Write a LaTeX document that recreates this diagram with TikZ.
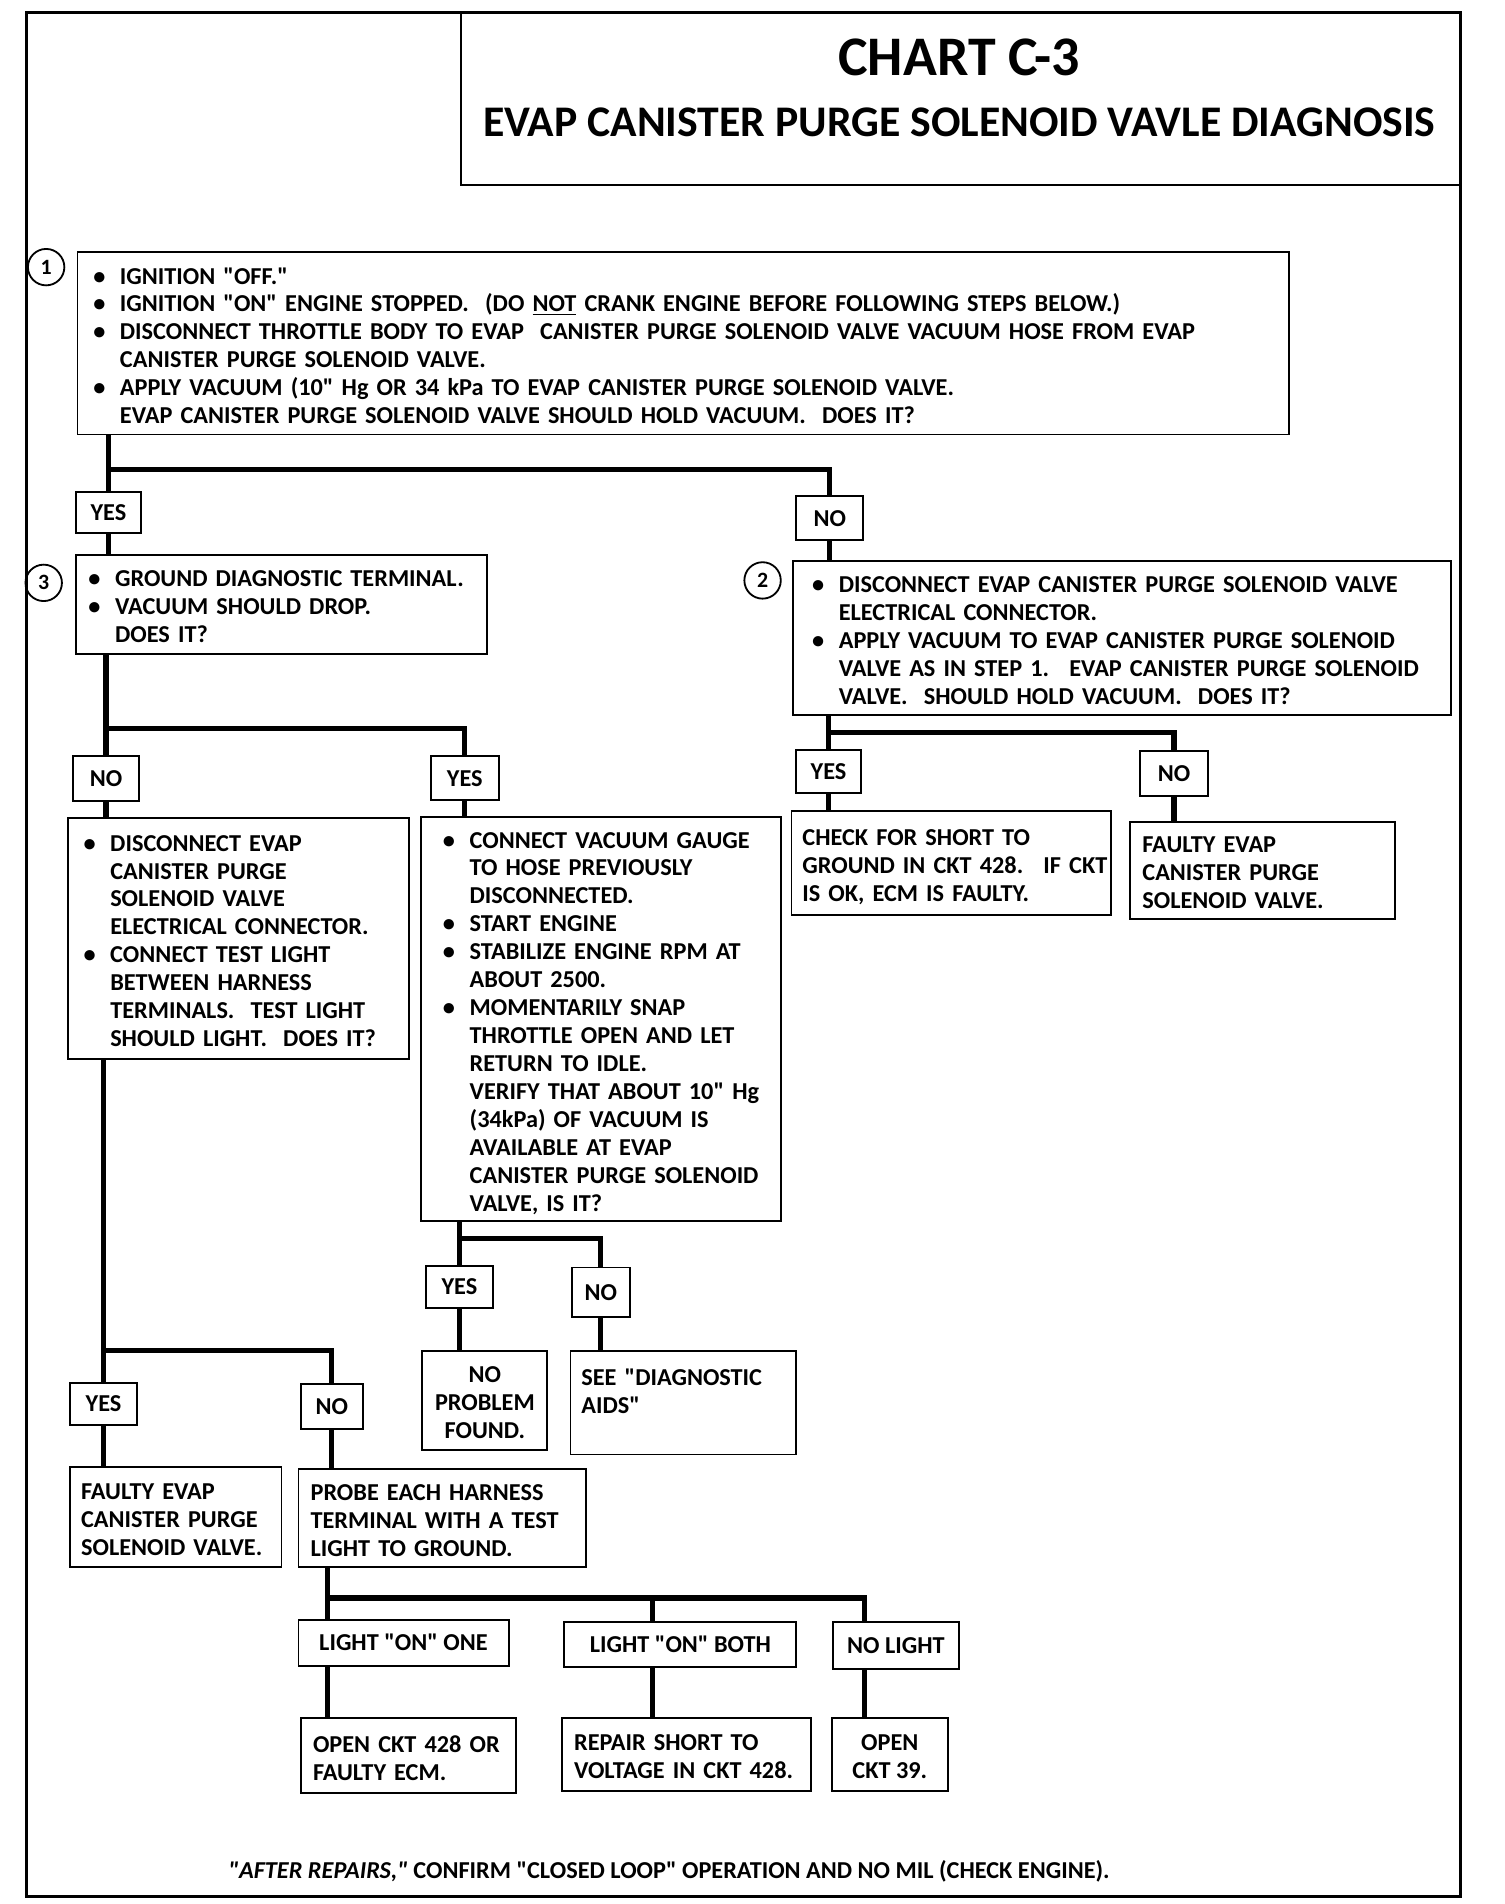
\documentclass[tikz,border=0pt]{standalone}
\usepackage{fontspec}
\setmainfont{Carlito}[Ligatures=TeXOff]
\usetikzlibrary{positioning,calc}
\newcommand{\cuerpo}{\fontsize{20}{23}\selectfont\bfseries}
\newcommand{\bul}{\makebox[22pt][l]{\textbullet}}
\newcommand{\sng}{\hspace*{22pt}}
\newcommand{\filas}[1]{\raisebox{-4pt}[\height][\depth]{\begin{tabular}{@{}l@{}}#1\end{tabular}}}
\newcommand{\filasc}[1]{\raisebox{-4pt}[\height][\depth]{\begin{tabular}{@{}c@{}}#1\end{tabular}}}
\tikzset{
  caja/.style={draw, line width=1.6pt, anchor=north west, inner ysep=0pt, font=\cuerpo},
  cajac/.style={draw, line width=1.6pt, anchor=north west, inner sep=0pt, font=\cuerpo},
  etiq/.style={draw, line width=1.6pt, anchor=north west, inner sep=0pt, font=\cuerpo},
  num/.style={draw, circle, line width=1.5pt, minimum size=30pt, inner sep=0pt, font=\fontsize{18}{18}\selectfont\bfseries},
  fl/.style={line width=4.2pt},
  marco/.style={line width=2.6pt},
}
\begin{document}
\begin{tikzpicture}[x=1pt, y=-1pt]
  \useasboundingbox (0,0) rectangle (1239,1568);
  \draw[marco] (22,10) rectangle (1203,1562);
  \draw[line width=1.6pt] (380,10) rectangle (1203,152);
  \node[font=\fontsize{46}{46}\selectfont\bfseries] (tit) at (790,47) {CHART C-3};
  \node[font=\fontsize{36}{36}\selectfont\bfseries] (sub) at (790,101) {EVAP CANISTER PURGE SOLENOID VAVLE DIAGNOSIS};

  \node[caja, minimum width=998pt, minimum height=150pt, inner xsep=13pt, text width=972pt] (s1) at (63,207)
    {\filas{\bul IGNITION "OFF."\\
     \bul IGNITION "ON" ENGINE STOPPED.~ (DO \underline{NOT} CRANK ENGINE BEFORE FOLLOWING STEPS BELOW.)\\
     \bul DISCONNECT THROTTLE BODY TO EVAP~ CANISTER PURGE SOLENOID VALVE VACUUM HOSE FROM EVAP\\
     \sng CANISTER PURGE SOLENOID VALVE.\\
     \bul APPLY VACUUM (10" Hg OR 34 kPa TO EVAP CANISTER PURGE SOLENOID VALVE.\\
     \sng EVAP CANISTER PURGE SOLENOID VALVE SHOULD HOLD VACUUM.~ DOES IT?}};
  \node[num] (c1) at (38,220) {1};

  \coordinate (j1) at (0,387);
  \node[etiq, minimum width=53pt, minimum height=34pt] (y1) at (62,404) {YES};
  \node[etiq, minimum width=55pt, minimum height=36pt] (n1) at (655,408) {NO};

  \node[caja, minimum width=338pt, minimum height=82pt, inner xsep=10pt, text width=318pt] (s3) at (62,456)
    {\filas{\bul GROUND DIAGNOSTIC TERMINAL.\\
     \bul VACUUM SHOULD DROP.\\
     \sng DOES IT?}};
  \node[num] (c3) at (36,480) {3};

  \node[caja, minimum width=542pt, minimum height=127pt, inner xsep=16pt, text width=510pt] (s2) at (652,461)
    {\filas{\bul DISCONNECT EVAP CANISTER PURGE SOLENOID VALVE\\
     \sng ELECTRICAL CONNECTOR.\\
     \bul APPLY VACUUM TO EVAP CANISTER PURGE SOLENOID\\
     \sng VALVE AS IN STEP 1.~ EVAP CANISTER PURGE SOLENOID\\
     \sng VALVE.~ SHOULD HOLD VACUUM.~ DOES IT?}};
  \node[num] (c2) at (628,478) {2};

  \coordinate (j3) at (0,600);
  \node[etiq, minimum width=55pt, minimum height=37pt] (n3) at (59,622) {NO};
  \node[etiq, minimum width=56pt, minimum height=36pt] (y3) at (354,622) {YES};

  \coordinate (j2) at (0,603);
  \node[etiq, minimum width=53pt, minimum height=35pt] (y2) at (655,617) {YES};
  \node[etiq, minimum width=56pt, minimum height=37pt] (n2) at (938,618) {NO};

  \node[caja, minimum width=263pt, minimum height=86pt, inner xsep=9pt, text width=245pt] (s6) at (651,667)
    {\filas{CHECK FOR SHORT TO\\
     GROUND IN CKT 428.~ IF CKT\\
     IS OK, ECM IS FAULTY.}};
  \node[caja, minimum width=218pt, minimum height=80pt, inner xsep=10pt, text width=198pt] (s7) at (930,676)
    {\filas{FAULTY EVAP\\
     CANISTER PURGE\\
     SOLENOID VALVE.}};

  \node[caja, minimum width=281pt, minimum height=198pt, inner xsep=13pt, text width=255pt] (s4) at (55,673)
    {\filas{\bul DISCONNECT EVAP\\
     \sng CANISTER PURGE\\
     \sng SOLENOID VALVE\\
     \sng ELECTRICAL CONNECTOR.\\
     \bul CONNECT TEST LIGHT\\
     \sng BETWEEN HARNESS\\
     \sng TERMINALS.~ TEST LIGHT\\
     \sng SHOULD LIGHT.~ DOES IT?}};
  \node[caja, minimum width=296pt, minimum height=333pt, inner xsep=18pt, text width=260pt] (s5) at (346,672)
    {\filas{\bul CONNECT VACUUM GAUGE\\
     \sng TO HOSE PREVIOUSLY\\
     \sng DISCONNECTED.\\
     \bul START ENGINE\\
     \bul STABILIZE ENGINE RPM AT\\
     \sng ABOUT 2500.\\
     \bul MOMENTARILY SNAP\\
     \sng THROTTLE OPEN AND LET\\
     \sng RETURN TO IDLE.\\
     \sng VERIFY THAT ABOUT 10" Hg\\
     \sng (34kPa) OF VACUUM IS\\
     \sng AVAILABLE AT EVAP\\
     \sng CANISTER PURGE SOLENOID\\
     \sng VALVE, IS IT?}};

  \coordinate (j5) at (0,1020);
  \node[etiq, minimum width=55pt, minimum height=34pt] (y5) at (350,1042) {YES};
  \node[etiq, minimum width=48pt, minimum height=41pt] (n5) at (470,1043) {NO};
  \node[cajac, minimum width=103pt, minimum height=81pt] (s10) at (347,1112)
    {\filasc{NO\\ PROBLEM\\ FOUND.}};
  \node[caja, minimum width=186pt, minimum height=85pt, inner xsep=9pt, text width=168pt] (s11) at (469,1112)
    {\filas{SEE "DIAGNOSTIC\\ AIDS"\\ \mbox{}}};

  \coordinate (j4) at (0,1112);
  \node[etiq, minimum width=55pt, minimum height=35pt] (y4) at (57,1138) {YES};
  \node[etiq, minimum width=51pt, minimum height=37pt] (n4) at (247,1139) {NO};
  \node[caja, minimum width=174pt, minimum height=83pt, inner xsep=9pt, text width=156pt] (s8) at (57,1207)
    {\filas{FAULTY EVAP\\
     CANISTER PURGE\\
     SOLENOID VALVE.}};
  \node[caja, minimum width=237pt, minimum height=81pt, inner xsep=10pt, text width=217pt] (s9) at (245,1209)
    {\filas{PROBE EACH HARNESS\\
     TERMINAL WITH A TEST\\
     LIGHT TO GROUND.}};

  \coordinate (k1) at (270,1316);
  \coordinate (k2) at (537,1316);
  \coordinate (k3) at (712,1316);
  \node[etiq, minimum width=173pt, minimum height=38pt] (o1) at (245,1333) {LIGHT "ON" ONE};
  \node[etiq, minimum width=191pt, minimum height=37pt] (o2) at (464,1335) {LIGHT "ON" BOTH};
  \node[etiq, minimum width=104pt, minimum height=39pt] (o3) at (685,1335) {NO LIGHT};
  \node[caja, minimum width=177pt, minimum height=62pt, inner xsep=10pt, text width=157pt] (s12) at (247,1414)
    {\filas{OPEN CKT 428 OR\\ FAULTY ECM.}};
  \node[caja, minimum width=205pt, minimum height=60pt, inner xsep=10pt, text width=185pt] (s13) at (462,1414)
    {\filas{REPAIR SHORT TO\\ VOLTAGE IN CKT 428.}};
  \node[cajac, minimum width=96pt, minimum height=60pt] (s14) at (684,1414)
    {\filasc{OPEN\\ CKT 39.}};

  \node[font=\cuerpo] (pie) at (551,1541) {\textit{"AFTER REPAIRS,"} CONFIRM "CLOSED LOOP" OPERATION AND NO MIL (CHECK ENGINE).};

  \draw[fl] (s1.south -| y1.north) -- (y1.north);
  \draw[fl] (y1.north |- j1) -| (n1.north);
  \draw[fl] (y1.south) -- (y1.south |- s3.north);
  \draw[fl] (n1.south) -- (n1.south |- s2.north);
  \draw[fl] (n3.north |- s3.south) -- (n3.north);
  \draw[fl] (n3.north |- j3) -| (y3.north);
  \draw[fl] (n3.south) -- (n3.south |- s4.north);
  \draw[fl] (y3.south) -- (y3.south |- s5.north);
  \draw[fl] (y2.north |- s2.south) -- (y2.north);
  \draw[fl] (y2.north |- j2) -| (n2.north);
  \draw[fl] (y2.south) -- (y2.south |- s6.north);
  \draw[fl] (n2.south) -- (n2.south |- s7.north);
  \draw[fl] (y4.north |- s4.south) -- (y4.north);
  \draw[fl] (y4.north |- j4) -| (n4.north);
  \draw[fl] (y4.south) -- (y4.south |- s8.north);
  \draw[fl] (n4.south) -- (n4.south |- s9.north);
  \draw[fl] (y5.north |- s5.south) -- (y5.north);
  \draw[fl] (y5.north |- j5) -| (n5.north);
  \draw[fl] (y5.south) -- (y5.south |- s10.north);
  \draw[fl] (n5.south) -- (n5.south |- s11.north);
  \draw[fl] (k1 |- s9.south) -- (k1 |- o1.north);
  \draw[fl] (k1) -- (k3) -- (k3 |- o3.north);
  \draw[fl] (k2) -- (k2 |- o2.north);
  \draw[fl] (k1 |- o1.south) -- (k1 |- s12.north);
  \draw[fl] (k2 |- o2.south) -- (k2 |- s13.north);
  \draw[fl] (k3 |- o3.south) -- (k3 |- s14.north);
\end{tikzpicture}
\end{document}
